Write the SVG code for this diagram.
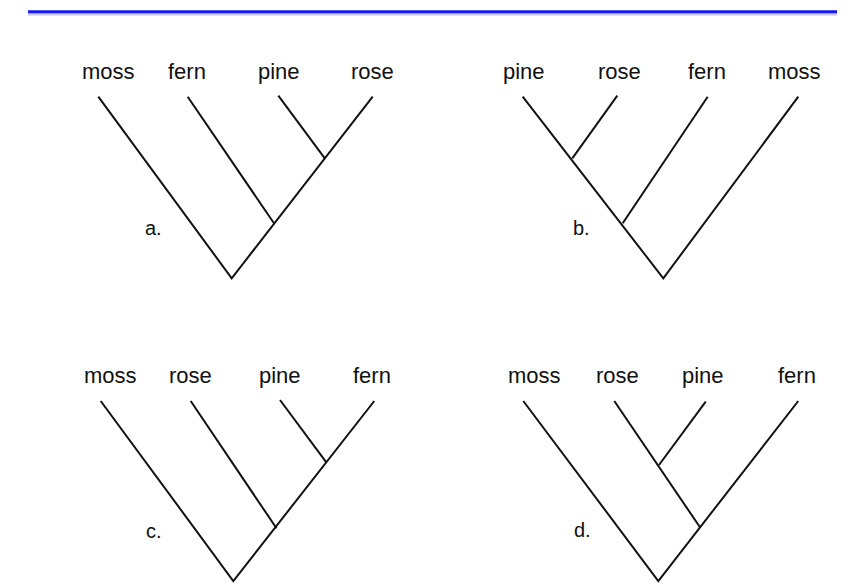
<svg xmlns="http://www.w3.org/2000/svg" width="858" height="584" viewBox="0 0 858 584">
<style>
.lbl{font-family:"Liberation Sans",Arial,sans-serif;font-size:22px;fill:#111}
.tag{font-family:"Liberation Sans",Arial,sans-serif;font-size:20px;fill:#111}
.br{stroke:#111;stroke-width:2;fill:none;stroke-linecap:butt}
</style>
<rect width="858" height="584" fill="#fff"/>
<g id="header">
<line x1="28" y1="14" x2="837" y2="14" stroke="#c8c8d8" stroke-width="3"/>
<line x1="28" y1="11.7" x2="837" y2="11.7" stroke="#1a1af0" stroke-width="3"/>
</g>
<g id="tree-a">
<text class="lbl" x="82" y="79">moss</text>
<text class="lbl" x="168" y="79">fern</text>
<text class="lbl" x="258" y="79">pine</text>
<text class="lbl" x="351" y="79">rose</text>
<text class="tag" x="145" y="235">a.</text>
</g>
<g id="tree-b">
<text class="lbl" x="503" y="79">pine</text>
<text class="lbl" x="598" y="79">rose</text>
<text class="lbl" x="688" y="79">fern</text>
<text class="lbl" x="768" y="79">moss</text>
<text class="tag" x="573" y="235">b.</text>
</g>
<g id="tree-c">
<text class="lbl" x="84" y="383">moss</text>
<text class="lbl" x="169" y="383">rose</text>
<text class="lbl" x="259" y="383">pine</text>
<text class="lbl" x="353" y="383">fern</text>
<text class="tag" x="146" y="538">c.</text>
</g>
<g id="tree-d">
<text class="lbl" x="508" y="383">moss</text>
<text class="lbl" x="596" y="383">rose</text>
<text class="lbl" x="682" y="383">pine</text>
<text class="lbl" x="778" y="383">fern</text>
<text class="tag" x="574" y="537">d.</text>
</g>
<g id="connectors" class="br">
<polyline class="br" points="98.3,96.7 231.7,278.3 372.7,96.7"/>
<line class="br" x1="187.7" y1="96.7" x2="274" y2="223.3"/>
<line class="br" x1="278.3" y1="95.7" x2="324.8" y2="158.3"/>

<polyline class="br" points="522.7,96.7 663.3,278.3 798.3,96.7"/>
<line class="br" x1="617.3" y1="95.7" x2="572.3" y2="158.3"/>
<line class="br" x1="707.7" y1="96.7" x2="622.7" y2="223.3"/>

<polyline class="br" points="100.7,401 233.3,581 374.3,401"/>
<line class="br" x1="190.7" y1="401" x2="276.5" y2="528.3"/>
<line class="br" x1="280" y1="400" x2="326.5" y2="462.7"/>

<polyline class="br" points="523.3,401 658.3,581 798.3,401"/>
<line class="br" x1="614.3" y1="401" x2="700" y2="527.3"/>
<line class="br" x1="705.7" y1="401.7" x2="659" y2="465"/>
</g>
</svg>
